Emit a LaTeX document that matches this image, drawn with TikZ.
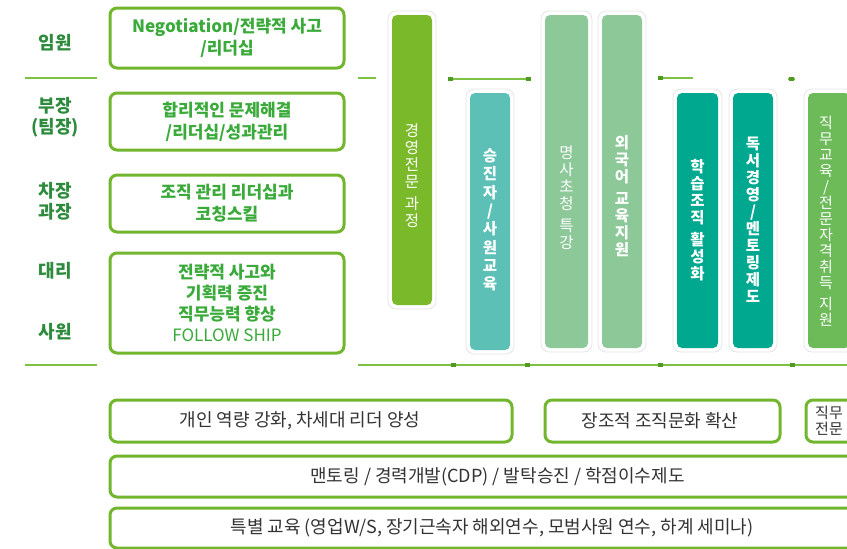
\documentclass[tikz,border=0pt]{standalone}
\usepackage{fontspec}
\setmainfont{Noto Sans CJK KR}
\definecolor{boxgreen}{HTML}{72B62E}
\definecolor{linegreen}{HTML}{7DC242}
\definecolor{dotgreen}{HTML}{4F9A22}
\definecolor{lblgreen}{HTML}{2E8B3E}
\definecolor{txtgreen}{HTML}{3AAA3A}
\definecolor{txtgray}{HTML}{333333}
\definecolor{barA}{HTML}{7AB929}
\definecolor{barB}{HTML}{5CC0B6}
\definecolor{barC}{HTML}{8CC898}
\definecolor{barD}{HTML}{00A88F}
\definecolor{barE}{HTML}{6CBA58}
\begin{document}
\begin{tikzpicture}[x=1pt,y=-1pt,
 gbox/.style={draw=boxgreen, line width=3pt, rounded corners=7pt, fill=white, inner sep=0pt},
 lbl/.style={text=lblgreen, font=\fontsize{18}{21}\selectfont\bfseries, align=center, inner sep=0pt},
 gtxt/.style={text=txtgreen, font=\fontsize{17}{22}\selectfont\bfseries, align=center},
 btxt/.style={text=txtgray, font=\fontsize{18}{20}\selectfont, inner sep=0pt},
 halo/.style={fill=white, draw=black!10, line width=0.8pt, rounded corners=8pt, inner sep=0pt},
 vbar/.style={rounded corners=5pt, inner sep=0pt},
 vtext/.style={text=white, align=center, inner sep=0pt, font=\fontsize{15.5}{17}\selectfont},
 vbold/.style={vtext, font=\fontsize{15.5}{17}\selectfont\bfseries},
 sep/.style={draw=linegreen, line width=2pt},
 mk/.style={fill=dotgreen, draw=none, minimum width=5pt, minimum height=4pt, inner sep=0pt},
]
\useasboundingbox (0,0) rectangle (847,549);
\clip (0,0) rectangle (847,549);

% separator lines
\draw[sep] (25,78) -- (97,78);
\draw[sep] (358,78) -- (376,78);
\draw[sep] (448,79) -- (530,79);
\draw[sep] (658,78) -- (693,78);
\draw[sep] (788,79) -- (795,79);
\draw[sep] (25,365) -- (97,365);
\draw[sep] (358,365) -- (850,365);
\node[mk] (m1) at (450,79) {};
\node[mk] (m2) at (528,79) {};
\node[mk] (m3) at (660,78) {};
\node[mk] (m4) at (791,79) {};
\node[mk] (m5) at (453,365) {};
\node[mk] (m6) at (527,365) {};
\node[mk] (m7) at (660,365) {};
\node[mk] (m8) at (792,365) {};

% left labels
\node[lbl] (l1) at (55,43) {임원};
\node[lbl] (l2) at (55,117.5) {부장\\(팀장)};
\node[lbl] (l3) at (55,201) {차장\\과장};
\node[lbl] (l4) at (55,271) {대리};
\node[lbl] (l5) at (55,332) {사원};

% left boxes
\node[gbox, gtxt, minimum width=234pt, minimum height=60pt] (b1) at (227,38) {Negotiation/전략적 사고\\/리더십};
\node[gbox, gtxt, minimum width=234pt, minimum height=57pt] (b2) at (227,121.5) {합리적인 문제해결\\/리더십/성과관리};
\node[gbox, gtxt, minimum width=234pt, minimum height=57pt] (b3) at (227,203.5) {조직 관리 리더십과\\코칭스킬};
\node[gbox, gtxt, font=\fontsize{17}{21}\selectfont\bfseries, minimum width=234pt, minimum height=100pt] (b4) at (227,303) {전략적 사고와\\기획력 증진\\직무능력 향상\\{\mdseries FOLLOW SHIP}};

% vertical bars
\node[halo, minimum width=48pt, minimum height=298pt] at (412,160) {};
\node[vbar, fill=barA, minimum width=40pt, minimum height=290pt] (v1) at (412,160) {};
\node[vtext] (t1) at (412,176) {경\\영\\전\\문\\[5pt]과\\정};

\node[halo, minimum width=48pt, minimum height=265pt] at (490,221.5) {};
\node[vbar, fill=barB, minimum width=40pt, minimum height=257pt] (v2) at (490,221.5) {};
\node[vbold, font=\fontsize{15.5}{18.3}\selectfont\bfseries] (t2) at (490,220) {승\\진\\자\\/\\사\\원\\교\\육};

\node[halo, minimum width=51pt, minimum height=341pt] at (566.5,181.5) {};
\node[vbar, fill=barC, minimum width=43pt, minimum height=333pt] (v3) at (566.5,181.5) {};
\node[vtext] (t3) at (566.5,198) {명\\사\\초\\청\\[5pt]특\\강};

\node[halo, minimum width=48pt, minimum height=341pt] at (622,181.5) {};
\node[vbar, fill=barC, minimum width=40pt, minimum height=333pt] (v4) at (622,181.5) {};
\node[vbold] (t4) at (622,196) {외\\국\\어\\[5pt]교\\육\\지\\원};

\node[halo, minimum width=49pt, minimum height=263pt] at (697.5,220.5) {};
\node[vbar, fill=barD, minimum width=41pt, minimum height=255pt] (v5) at (697.5,220.5) {};
\node[vbold] (t5) at (697.5,220) {학\\습\\조\\직\\[5pt]활\\성\\화};

\node[halo, minimum width=48pt, minimum height=263pt] at (753,220.5) {};
\node[vbar, fill=barD, minimum width=40pt, minimum height=255pt] (v6) at (753,220.5) {};
\node[vbold] (t6) at (753,220) {독\\서\\경\\영\\/\\멘\\토\\링\\제\\도};

\node[halo, minimum width=50pt, minimum height=263pt] at (829,220.5) {};
\node[vbar, fill=barE, minimum width=42pt, minimum height=255pt] (v7) at (829,220.5) {};
\node[vtext, font=\fontsize{15}{16}\selectfont] (t7) at (826,221) {직\\무\\교\\육\\/\\전\\문\\자\\격\\취\\득\\[5pt]지\\원};

% bottom boxes
\node[gbox, minimum width=402pt, minimum height=42pt] (c1) at (311,421) {};
\node[btxt] (ct1) at (300,421) {개인 역량 강화, 차세대 리더 양성};
\node[gbox, minimum width=235pt, minimum height=42pt] (c2) at (662.5,421) {};
\node[btxt] (ct2) at (660,421) {장조적 조직문화 확산};
\node[gbox, minimum width=94pt, minimum height=42pt] (c3) at (853,421) {};
\node[btxt, font=\fontsize{15}{16}\selectfont, align=left, anchor=west] (ct3) at (815,421) {직무\\전문};
\node[gbox, minimum width=790pt, minimum height=41pt] (r2) at (505,476.5) {};
\node[btxt] (rt2) at (497.5,476.5) {맨토링 / 경력개발(CDP) / 발탁승진 / 학점이수제도};
\node[gbox, minimum width=790pt, minimum height=40pt] (r3) at (505,528) {};
\node[btxt] (rt3) at (492,528) {특별 교육 (영업W/S, 장기근속자 해외연수, 모범사원 연수, 하계 세미나)};
\end{tikzpicture}
\end{document}
